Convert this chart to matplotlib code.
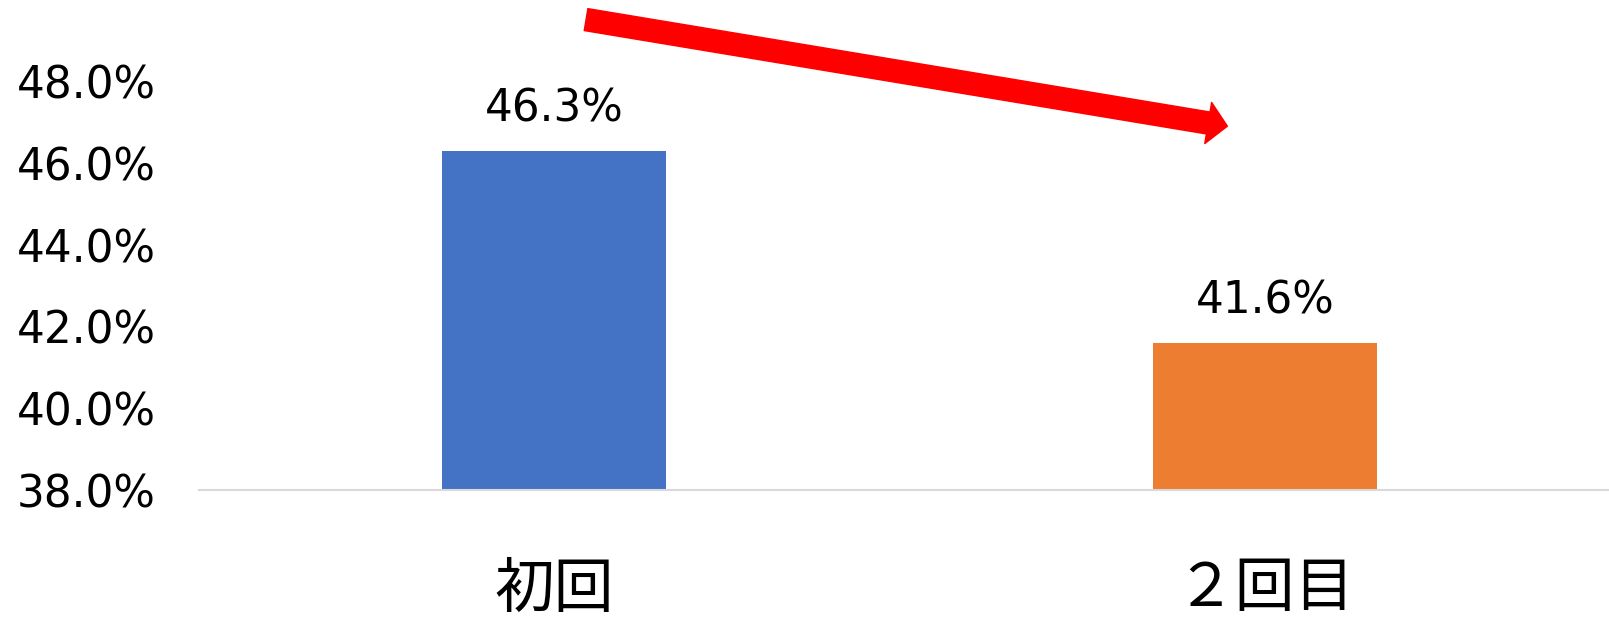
import matplotlib.pyplot as plt
from matplotlib.patches import FancyArrowPatch

plt.rcParams['font.family'] = ['DejaVu Sans', 'Noto Sans CJK JP']

categories = ['初回', '２回目']
rates = [46.3, 41.6]
colors = ['#4472C4', '#ED7D31']
yticks = [38, 40, 42, 44, 46, 48]

fig = plt.figure(figsize=(16.09, 6.22), dpi=100)
ax = fig.add_axes([0.1234, 0.2122, 0.8838, 0.7878])

x = range(len(categories))
ax.bar(x, [r - 38 for r in rates], bottom=38, width=0.315, color=colors)

for xi, r in zip(x, rates):
    ax.annotate(f'{r:.1f}%', (xi, r), xytext=(0, 15), textcoords='offset points',
                ha='center', va='bottom', fontsize=31.5)

ax.set_xlim(-0.5, 1.5)
ax.set_ylim(38, 50)
ax.set_yticks(yticks)
ax.set_yticklabels([f'{v:.1f}%' for v in yticks], fontsize=31.5)
ax.set_xticks(list(x))
ax.set_xticklabels(categories, fontsize=43, family=['Noto Sans CJK JP', 'DejaVu Sans'])
ax.tick_params(axis='y', length=0, pad=31)
ax.tick_params(axis='x', length=0, pad=50)
for lbl in ax.get_yticklabels():
    lbl.set_va('center_baseline')

for s in ['top', 'right', 'left']:
    ax.spines[s].set_visible(False)
ax.spines['bottom'].set_color('#d9d9d9')
ax.spines['bottom'].set_linewidth(1.5)

# downward trend arrow
arrow = FancyArrowPatch((0.045, 49.52), (0.947, 46.91),
                        arrowstyle='simple,head_length=14,head_width=30,tail_width=16',
                        mutation_scale=1, color='#FF0000', shrinkA=0, shrinkB=0,
                        clip_on=False)
ax.add_patch(arrow)

fig.savefig('out.png', dpi=100)
